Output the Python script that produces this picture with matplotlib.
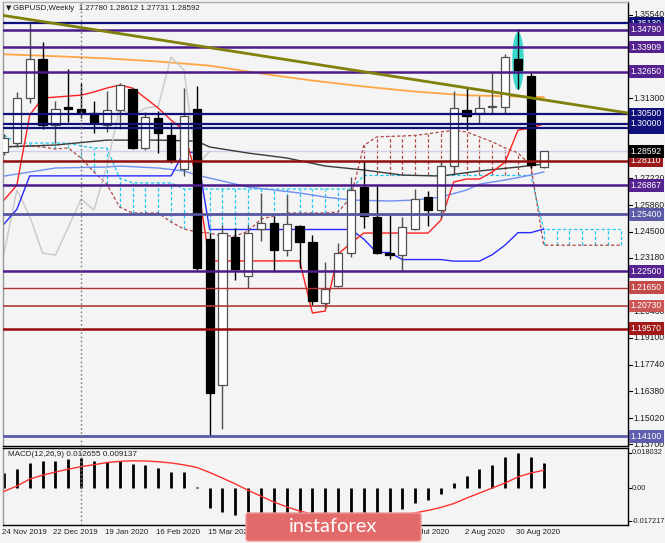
import matplotlib
matplotlib.use('Agg')
import matplotlib.pyplot as plt
import matplotlib.transforms as mtransforms
from matplotlib.patches import Rectangle, Ellipse, FancyBboxPatch
import numpy as np

plt.rcParams['font.family'] = ['Liberation Sans', 'DejaVu Sans']

# ---------------- data (weekly GBPUSD) ----------------
opens = [1.2855, 1.2902, 1.3131, 1.3330, 1.2993, 1.3085, 1.3075, 1.3055, 1.2993, 1.3070,
         1.3177, 1.2877, 1.3029, 1.2943, 1.2770, 1.3075, 1.2413, 1.1670, 1.2424, 1.2225,
         1.2464, 1.2495, 1.2357, 1.2479, 1.2398, 1.2087, 1.2174, 1.2342, 1.2678, 1.2525,
         1.2342, 1.2332, 1.2464, 1.2627, 1.2561, 1.2785, 1.3070, 1.3055, 1.3085, 1.3085,
         1.3330, 1.3243, 1.27780]
highs = [1.2950, 1.3162, 1.3513, 1.3416, 1.3116, 1.3279, 1.3208, 1.3116, 1.3167, 1.3208,
         1.3182, 1.3060, 1.3065, 1.3009, 1.3182, 1.3192, 1.2444, 1.2485, 1.2469, 1.2485,
         1.2647, 1.2530, 1.2637, 1.2485, 1.2434, 1.2296, 1.2393, 1.2729, 1.2810, 1.2683,
         1.2535, 1.2525, 1.2668, 1.2658, 1.2805, 1.3167, 1.3187, 1.3141, 1.3258, 1.3355,
         1.3482, 1.3264, 1.28612]
lows = [1.2840, 1.2880, 1.3108, 1.2973, 1.2902, 1.3010, 1.3030, 1.2953, 1.2958, 1.2973,
        1.2870, 1.2866, 1.2851, 1.2800, 1.2734, 1.2255, 1.1410, 1.1446, 1.2204, 1.2164,
        1.2403, 1.2245, 1.2327, 1.2266, 1.2080, 1.2062, 1.2169, 1.2322, 1.2469, 1.2335,
        1.2311, 1.2250, 1.2460, 1.2479, 1.2520, 1.2749, 1.2968, 1.3004, 1.3055, 1.3055,
        1.3177, 1.2775, 1.27731]
closes = [1.2930, 1.3131, 1.3330, 1.2993, 1.3075, 1.3075, 1.3055, 1.3004, 1.3070, 1.3197,
          1.2877, 1.3034, 1.2953, 1.2815, 1.3040, 1.2266, 1.1629, 1.2444, 1.2261, 1.2444,
          1.2495, 1.2357, 1.2490, 1.2398, 1.2098, 1.2159, 1.2342, 1.2663, 1.2530, 1.2342,
          1.2332, 1.2474, 1.2617, 1.2561, 1.2785, 1.3080, 1.3040, 1.3080, 1.3090, 1.3340,
          1.3274, 1.2790, 1.28592]

tenkan = [1.2612, 1.2688, 1.3045, 1.3131, 1.3136, 1.3141, 1.3146, 1.3162, 1.3182, 1.3197,
          1.3182, 1.3131, 1.3080, 1.3019, 1.2968, 1.2719, 1.2302, 1.2302, 1.2302, 1.2302,
          1.2302, 1.2302, 1.2302, 1.2302, 1.2037, 1.2047, 1.2337, 1.2393, 1.2444, 1.2444,
          1.2444, 1.2444, 1.2444, 1.2444, 1.2510, 1.2704, 1.2719, 1.2719, 1.2755, 1.2806,
          1.2968, 1.2978, 1.2999]
kijun = [1.2490, 1.2565, 1.2735, 1.2735, 1.2735, 1.2735, 1.2735, 1.2735, 1.2735, 1.2735,
         1.2735, 1.2735, 1.2735, 1.2735, 1.2855, 1.2855, 1.2462, 1.2462, 1.2462, 1.2462,
         1.2462, 1.2462, 1.2462, 1.2462, 1.2462, 1.2462, 1.2462, 1.2462, 1.2413, 1.2345,
         1.2345, 1.2309, 1.2309, 1.2309, 1.2309, 1.2301, 1.2301, 1.2301, 1.2334, 1.2383,
         1.2446, 1.2446, 1.2464]
span_a = [1.2882, 1.2887, 1.2887, 1.2882, 1.2872, 1.2877, 1.2826, 1.2755, 1.2693, 1.2576,
          1.2546, 1.2546, 1.2546, 1.2500, 1.2465, 1.2449, 1.2444, 1.2429, 1.2429, 1.2454,
          1.2515, 1.2531, 1.2546, 1.2546, 1.2546, 1.2546, 1.2551, 1.2627, 1.2890, 1.2933,
          1.2936, 1.2938, 1.2941, 1.2949, 1.2959, 1.2966, 1.2959, 1.2933, 1.2908, 1.2877,
          1.2852, 1.2787, 1.2382, 1.2382, 1.2382, 1.2382, 1.2382, 1.2382, 1.2382]
span_b = [1.2943, 1.2902, 1.2902, 1.2902, 1.2902, 1.2902, 1.2887, 1.2877, 1.2877, 1.2724,
          1.2699, 1.2699, 1.2699, 1.2699, 1.2668, 1.2668, 1.2668, 1.2668, 1.2668, 1.2668,
          1.2668, 1.2668, 1.2668, 1.2668, 1.2668, 1.2668, 1.2668, 1.2668, 1.2737, 1.2737,
          1.2737, 1.2737, 1.2737, 1.2737, 1.2737, 1.2737, 1.2737, 1.2737, 1.2737, 1.2737,
          1.2737, 1.2737, 1.2462, 1.2462, 1.2462, 1.2462, 1.2462, 1.2462, 1.2462]
chikou_shift = 26

ma_orange_idx = [0, 4, 8, 12, 16, 20, 24, 28, 32, 36, 40, 42]
ma_orange = [1.3354, 1.3344, 1.3333, 1.3317, 1.3296, 1.3256, 1.3220, 1.3190, 1.3164, 1.3145, 1.3139, 1.3136]
ma_dark_idx = [0, 4, 8, 12, 15, 16, 19, 22, 25, 28, 31, 34, 37, 40, 42]
ma_dark = [1.2882, 1.2892, 1.2917, 1.2917, 1.2912, 1.2882, 1.2851, 1.2826, 1.2785, 1.2765, 1.2739, 1.2734, 1.2760, 1.2780, 1.2795]
ma_blue_idx = [0, 4, 8, 9, 12, 14, 15, 16, 19, 23, 25, 27, 30, 32, 34, 36, 37, 39, 41, 42]
ma_blue = [1.2734, 1.2775, 1.2780, 1.2785, 1.2775, 1.2760, 1.2739, 1.2724, 1.2678, 1.2648, 1.2627, 1.2612,
           1.2607, 1.2612, 1.2627, 1.2663, 1.2693, 1.2714, 1.2739, 1.2755]

trend_idx = [0, 42]
trend_price = [1.3551, 1.3122]

macd_hist = [0.0077, 0.0098, 0.0129, 0.0139, 0.0139, 0.0149, 0.0154, 0.0139, 0.0134, 0.0139,
             0.0123, 0.0118, 0.0103, 0.0082, 0.0082, 0.0005, -0.0103, -0.0123, -0.0139, -0.0123,
             -0.0128, -0.0135, -0.0145, -0.0155, -0.0165, -0.0172, -0.0168, -0.0155, -0.0145, -0.0140,
             -0.0125, -0.0110, -0.0077, -0.0062, -0.0031, 0.0026, 0.0062, 0.0098, 0.0118, 0.0159,
             0.0180, 0.0159, 0.012655]
macd_signal = [-0.0017, 0.0010, 0.0046, 0.0066, 0.0082, 0.0097, 0.0110, 0.0120, 0.0131, 0.0137,
               0.0140, 0.0139, 0.0135, 0.0129, 0.0119, 0.0106, 0.0080, 0.0051, 0.0021, -0.0012,
               -0.0042, -0.0072, -0.0097, -0.0118, -0.0135, -0.0148, -0.0157, -0.0161, -0.0162, -0.0158,
               -0.0150, -0.0140, -0.0128, -0.0115, -0.0100, -0.0080, -0.0052, -0.0026, 0.0000, 0.0026,
               0.0057, 0.0077, 0.009137]

# horizontal levels: price, line colour, box colour, linewidth
levels = [(1.35130, '#10107a', '#10107a', 1.6),
          (1.34790, '#4b1a8a', '#55238f', 1.8),
          (1.33909, '#4b1a8a', '#55238f', 1.8),
          (1.32650, '#4b1a8a', '#55238f', 1.8),
          (1.30500, '#10107a', '#10107a', 1.6),
          (1.29800, '#10107a', '#10107a', 1.6),
          (1.30000, '#10107a', '#10107a', 1.6),
          (1.28110, '#8e1010', '#9c1a1a', 1.8),
          (1.26867, '#4b1a8a', '#55238f', 1.8),
          (1.25400, '#5555a0', '#5a5aa5', 2.0),
          (1.22500, '#4b1a8a', '#55238f', 1.8),
          (1.21650, '#b03434', '#c24a4a', 1.0),
          (1.20730, '#b23a3a', '#cc5555', 1.2),
          (1.19570, '#960c0c', '#a31818', 1.8),
          (1.14100, '#5a5aa8', '#5e5eac', 2.0)]
current_price = 1.28592

price_ticks = [1.13700, 1.15020, 1.16380, 1.17740, 1.19100, 1.20460, 1.21820, 1.23180,
               1.24500, 1.25860, 1.27220, 1.31300, 1.35540]
macd_ticks = [0.018032, 0.0, -0.017217]
macd_tick_labels = ['0.018032', '0.00', '-0.017217']

date_idx = [0, 4, 8, 12, 16, 20, 24, 28, 32, 36, 40]
date_labels = ['24 Nov 2019', '22 Dec 2019', '19 Jan 2020', '16 Feb 2020', '15 Mar 2020',
               '12 Apr 2020', '10 May 2020', '7 Jun 2020', '5 Jul 2020', '2 Aug 2020', '30 Aug 2020']
separator_idx = 6
ellipse_idx = 40
ellipse_top, ellipse_bottom = 1.3467, 1.3172

title = 'GBPUSD,Weekly  1.27780 1.28612 1.27731 1.28592'
macd_title = 'MACD(12,26,9) 0.012655 0.009137'

# ---------------- figure ----------------
W, H = 665, 543
BG = '#f4f4f4'
fig = plt.figure(figsize=(W / 100, H / 100), dpi=100)
fig.patch.set_facecolor(BG)

ax = fig.add_axes([3 / W, 1 - 446 / H, 625 / W, 444 / H])
ax2 = fig.add_axes([3 / W, 1 - 525 / H, 625 / W, 77 / H])
for a in (ax, ax2):
    a.set_facecolor(BG)
    a.set_xlim(-0.08, 48.56)
    a.set_xticks([])
    a.set_yticks([])
    a.spines['right'].set_color('black')
    a.spines['bottom'].set_color('black')
    a.spines['left'].set_color('#9a9a9a')
    a.spines['top'].set_color('#9a9a9a')
    for s in a.spines.values():
        s.set_linewidth(1.0)
ax.set_ylim(1.1360, 1.3620)
ax2.set_ylim(-0.01903, 0.02058)
ax.spines['top'].set_color('#b0b0b0')
ax2.spines['top'].set_color('black')

n = len(opens)
idx = np.arange(n)
dash = (0, (2.6, 1.8))

# Ichimoku cloud hatch
cidx = np.arange(len(span_a))
for i in cidx:
    a_, b_ = span_a[i], span_b[i]
    col = '#1ec8f0' if b_ > a_ else '#b04848'
    ax.vlines(i, min(a_, b_), max(a_, b_), colors=col, linestyles=dash, lw=0.9, zorder=1)
ax.plot(cidx, span_b, color='#1ec8f0', ls=dash, lw=0.9, zorder=1.5)
ax.plot(cidx, span_a, color='#b04848', ls=dash, lw=0.9, zorder=1.5)

# moving averages
ax.plot(ma_orange_idx, ma_orange, color='#ffa646', lw=1.3, zorder=2)
ax.plot(ma_dark_idx, ma_dark, color='#3a3a3a', lw=1.0, zorder=2)
ax.plot(ma_blue_idx, ma_blue, color='#6f8ff0', lw=1.0, zorder=2)

# chikou, tenkan, kijun
chik = closes[chikou_shift - 1:]
ax.plot(np.arange(-1, len(chik) - 1), chik, color='#c8c8c8', lw=1.0, zorder=2)
ax.plot(idx, kijun, color='#2a2aff', lw=1.0, zorder=2.2)
ax.plot(idx, tenkan, color='#ff2020', lw=1.0, zorder=2.3)

# current price line
ax.axhline(current_price, color='#d0d0ee', lw=1.0, zorder=1.2)

# ellipse
ax.add_patch(Ellipse((ellipse_idx, (ellipse_top + ellipse_bottom) / 2), 0.9,
                     ellipse_top - ellipse_bottom, facecolor='#3cd8cc', edgecolor='none', zorder=2.5))

# candles
bw = 0.64
for i in range(n):
    o, h, l, c = opens[i], highs[i], lows[i], closes[i]
    up = c >= o
    ec = '#505050' if up else 'black'
    ax.vlines(i, l, h, colors=ec, lw=1.0, zorder=3)
    bot = min(o, c)
    hgt = max(abs(c - o), 0.0006)
    ax.add_patch(Rectangle((i - bw / 2, bot), bw, hgt, facecolor='white' if up else 'black',
                           edgecolor=ec, lw=0.9, zorder=3.2))

# horizontal objects
for p, lc, bc, lw in levels:
    ax.axhline(p, color=lc, lw=lw, zorder=4)

# trendline (ray)
slope = (trend_price[1] - trend_price[0]) / (trend_idx[1] - trend_idx[0])
xs = np.array([-0.5, 49])
ax.plot(xs, trend_price[0] + slope * (xs - trend_idx[0]), color='#80800a', lw=2.0, zorder=4.5,
        solid_capstyle='butt')

# separator
for a in (ax, ax2):
    a.axvline(separator_idx, color='#7a7a7a', lw=1.0, ls=(0, (1.2, 1.8)), zorder=4)

# right axis ticks and labels
tr = mtransforms.blended_transform_factory(ax.transAxes, ax.transData)
for p in price_ticks:
    ax.plot([1.0, 1.006], [p, p], color='black', lw=0.8, transform=tr, clip_on=False, zorder=5)
    ax.text(1.009, p, f'{p:.5f}', transform=tr, ha='left', va='center', fontsize=6.2,
            color='#202020', clip_on=False, zorder=5)
for p, lc, bc, lw in levels:
    ax.text(1.0045, p, f'{p:.5f}', transform=tr, ha='left', va='center', fontsize=6.2,
            color='white', clip_on=False, zorder=6,
            bbox=dict(boxstyle='square,pad=0.22', fc=bc, ec='none'))
ax.text(1.0045, current_price, f'{current_price:.5f}', transform=tr, ha='left', va='center',
        fontsize=6.2, color='white', clip_on=False, zorder=6,
        bbox=dict(boxstyle='square,pad=0.22', fc='black', ec='none'))

# title
fig.text(6 / W, 1 - 8.5 / H, '\u25bc', fontsize=5, va='center', ha='left', color='#202020',
         family='DejaVu Sans')
fig.text(13 / W, 1 - 8.5 / H, title, fontsize=5.7, va='center', ha='left', color='#202020')

# MACD panel
ax2.vlines(idx, 0, macd_hist, colors='black', lw=2.0, zorder=2)
ax2.plot(idx, macd_signal, color='#ff3030', lw=1.0, zorder=3)
tr2 = mtransforms.blended_transform_factory(ax2.transAxes, ax2.transData)
for v, t in zip(macd_ticks, macd_tick_labels):
    ax2.plot([1.0, 1.005], [v, v], color='black', lw=0.8, transform=tr2, clip_on=False)
    ax2.text(1.0055, v, t, transform=tr2, ha='left', va='center', fontsize=5.3, color='#202020',
             clip_on=False)
ax2.text(5 / 625, 1 - 7 / 77, macd_title, transform=ax2.transAxes, fontsize=5.9, ha='left',
         va='center', color='#202020')

# date labels
trd = mtransforms.blended_transform_factory(ax2.transData, fig.transFigure)
for i, lab in zip(date_idx, date_labels):
    ax2.text(i - 0.15, 1 - 533 / H, lab, transform=trd, fontsize=5.7, ha='left', va='center',
             color='#202020', clip_on=False)

# watermark logo
logo = FancyBboxPatch((246 / W, 1 - 541 / H), 175 / W, 28 / H,
                      boxstyle='round,pad=0,rounding_size=0.004', transform=fig.transFigure,
                      facecolor='#e36a6a', edgecolor='#ee9a9a', lw=1.0, zorder=10)
fig.patches.append(logo)
fig.text(333 / W, 1 - 527 / H, 'instaforex', fontsize=14.5, ha='center', va='center',
         color='white', family=['Lato', 'DejaVu Sans'], zorder=11)

fig.savefig('out.png', dpi=100, facecolor=BG)
